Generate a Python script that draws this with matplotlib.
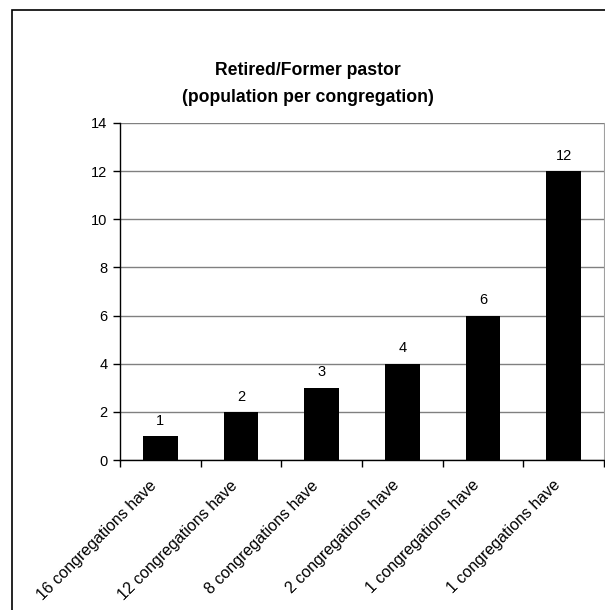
import matplotlib.pyplot as plt
import matplotlib.transforms as mtransforms
from matplotlib.patches import Rectangle

plt.rcParams['font.family'] = ['Liberation Sans', 'DejaVu Sans']

categories = ['16 congregations have', '12 congregations have', '8 congregations have',
              '2 congregations have', '1 congregations have', '1 congregations have']
values = [1, 2, 3, 4, 6, 12]
yticks = [0, 2, 4, 6, 8, 10, 12, 14]

fig = plt.figure(figsize=(6.05, 6.10), dpi=100)
# outer chart border (cut off at right/bottom like the reference)
fig.patches.append(Rectangle((12 / 605, -0.1), 1.2, 1 - 10 / 610 + 0.1,
                             transform=fig.transFigure, fill=False,
                             edgecolor='black', linewidth=1.2))

ax = fig.add_axes([120 / 605, 1 - 460 / 610, 484 / 605, 337 / 610])
x = list(range(len(values)))
ax.bar(x, values, width=0.43, color='black', zorder=3)
for xi, v in zip(x, values):
    ax.annotate(str(v), (xi, v), xytext=(0, 6), textcoords='offset points',
                ha='center', va='bottom', fontsize=10.5)

ax.set_xlim(-0.5, len(values) - 0.5)
ax.set_ylim(0, 14)
ax.set_yticks(yticks)
ax.yaxis.grid(True, color='#808080', linewidth=1, zorder=0)
ax.set_xticks([i - 0.5 for i in range(len(values) + 1)])
ax.set_xticklabels([])

# rotated category labels, right end a little left of the category centre
offset = mtransforms.ScaledTranslation(-6 / 100, -23 / 100, fig.dpi_scale_trans)
for xi, lab in zip(x, categories):
    ax.text(xi, 0, lab, transform=ax.get_xaxis_transform() + offset,
            rotation=45, ha='right', va='center', rotation_mode='anchor',
            fontsize=11.5)

ax.tick_params(axis='x', which='major', length=5, direction='out', width=1)
ax.tick_params(axis='y', length=5, direction='out', width=1, labelsize=10.5, pad=4)

ax.spines['top'].set_visible(False)
ax.spines['right'].set_color('#a0a0a0')
ax.spines['left'].set_linewidth(1)
ax.spines['bottom'].set_linewidth(1)

fig.text(308 / 605, 1 - 84 / 610, 'Retired/Former pastor\n(population per congregation)',
         ha='center', va='center', fontsize=12.7, fontweight='bold', linespacing=1.75)

fig.savefig('out.png', dpi=100, facecolor='white')
